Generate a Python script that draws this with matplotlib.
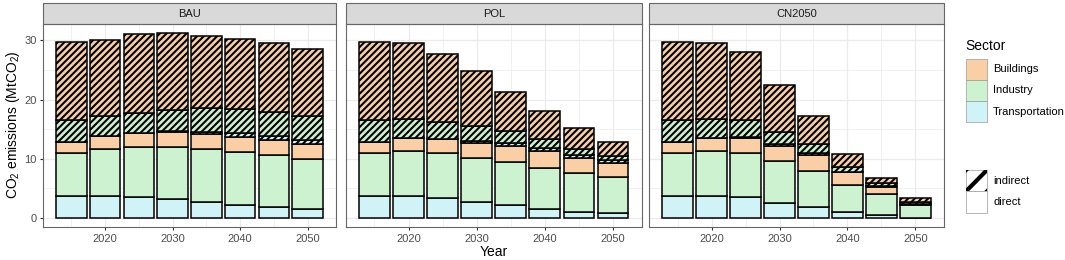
import matplotlib.pyplot as plt
from matplotlib.patches import Rectangle
from matplotlib.lines import Line2D

plt.rcParams['font.family'] = ['Liberation Sans', 'DejaVu Sans']
plt.rcParams['mathtext.default'] = 'regular'
plt.rcParams['hatch.linewidth'] = 1.5
plt.rcParams['hatch.color'] = 'black'

# data (MtCO2)
years = [2015, 2020, 2025, 2030, 2035, 2040, 2045, 2050]
scenarios = ["BAU", "POL", "CN2050"]
sectors = ["Buildings", "Industry", "Transportation"]

bau_trans_dir = [3.7, 3.7, 3.6, 3.3, 2.75, 2.2, 1.8, 1.5]
bau_ind_dir = [7.2, 8.0, 8.4, 8.7, 8.95, 8.9, 8.8, 8.55]
bau_bld_dir = [2.0, 2.2, 2.3, 2.5, 2.5, 2.55, 2.5, 2.45]
bau_trans_ind = [0.0, 0.0, 0.05, 0.2, 0.4, 0.75, 0.7, 0.75]
bau_ind_ind = [3.6, 3.3, 3.45, 3.6, 3.9, 4.0, 4.1, 4.05]
bau_bld_ind = [13.2, 12.9, 13.2, 12.9, 12.3, 11.8, 11.65, 11.2]

pol_trans_dir = [3.7, 3.7, 3.4, 2.75, 2.2, 1.6, 1.05, 0.8]
pol_ind_dir = [7.2, 7.65, 7.55, 7.45, 7.3, 6.9, 6.55, 6.1]
pol_bld_dir = [2.0, 2.15, 2.35, 2.4, 2.6, 2.8, 2.6, 2.4]
pol_trans_ind = [0.0, 0.0, 0.1, 0.4, 0.5, 0.5, 0.4, 0.5]
pol_ind_ind = [3.6, 3.2, 2.8, 2.5, 2.1, 1.6, 1.1, 0.65]
pol_bld_ind = [13.2, 12.85, 11.5, 9.3, 6.5, 4.6, 3.5, 2.35]

cn_trans_dir = [3.7, 3.7, 3.5, 2.6, 1.85, 1.05, 0.45, 0.05]
cn_ind_dir = [7.2, 7.65, 7.55, 7.0, 6.15, 4.5, 3.55, 2.2]
cn_bld_dir = [2.0, 2.15, 2.45, 2.5, 2.6, 2.15, 1.3, 0.05]
cn_trans_ind = [0.0, 0.0, 0.15, 0.4, 0.4, 0.1, 0.15, 0.1]
cn_ind_ind = [3.6, 3.2, 2.85, 2.0, 1.5, 0.85, 0.4, 0.25]
cn_bld_ind = [13.2, 12.85, 11.6, 8.0, 4.7, 2.1, 0.9, 0.7]

colors = {"Buildings": "#FBCFA6", "Industry": "#CDF2CF", "Transportation": "#CFF3F6"}

# stacking order bottom -> top: (values, sector, indirect?)
stacks = {
    "BAU": [(bau_trans_dir, "Transportation", False), (bau_ind_dir, "Industry", False),
            (bau_bld_dir, "Buildings", False), (bau_trans_ind, "Transportation", True),
            (bau_ind_ind, "Industry", True), (bau_bld_ind, "Buildings", True)],
    "POL": [(pol_trans_dir, "Transportation", False), (pol_ind_dir, "Industry", False),
            (pol_bld_dir, "Buildings", False), (pol_trans_ind, "Transportation", True),
            (pol_ind_ind, "Industry", True), (pol_bld_ind, "Buildings", True)],
    "CN2050": [(cn_trans_dir, "Transportation", False), (cn_ind_dir, "Industry", False),
               (cn_bld_dir, "Buildings", False), (cn_trans_ind, "Transportation", True),
               (cn_ind_ind, "Industry", True), (cn_bld_ind, "Buildings", True)],
}

W, H = 1065, 260
fig = plt.figure(figsize=(W / 100, H / 100), dpi=100)

panel_left = [43, 345.7, 649]
panel_width = [293, 296, 295]
plot_top, plot_bottom = 24, 227.3
strip_h = 20.7
border = "#666666"

for i, sc in enumerate(scenarios):
    ax = fig.add_axes([panel_left[i] / W, (H - plot_bottom) / H,
                       panel_width[i] / W, (plot_bottom - plot_top) / H])
    bottom = [0.0] * len(years)
    for vals, sec, indirect in stacks[sc]:
        ax.bar(years, vals, width=4.5, bottom=bottom, color=colors[sec],
               edgecolor="black", linewidth=1.1,
               hatch="/////" if indirect else None, zorder=3)
        bottom = [b + v for b, v in zip(bottom, vals)]

    ax.set_xlim(2010.775, 2054.225)
    ax.set_ylim(-1.56, 32.76)
    ax.set_xticks([2020, 2030, 2040, 2050])
    ax.set_xticks([2015, 2025, 2035, 2045], minor=True)
    ax.set_yticks([0, 10, 20, 30])
    ax.set_yticks([5, 15, 25], minor=True)
    ax.grid(which="major", color="#EBEBEB", linewidth=0.9, zorder=0)
    ax.grid(which="minor", color="#EBEBEB", linewidth=0.5, zorder=0)
    ax.set_axisbelow(True)
    ax.tick_params(which="minor", length=0)
    ax.tick_params(which="major", length=2.5, width=0.8, color="#333333",
                   labelcolor="#4D4D4D", labelsize=8, pad=2)
    if i > 0:
        ax.tick_params(axis="y", left=False, labelleft=False)
    for sp in ax.spines.values():
        sp.set_color(border)
        sp.set_linewidth(0.8)

    # facet strip
    sh = strip_h / (plot_bottom - plot_top)
    ax.add_patch(Rectangle((0, 1), 1, sh, transform=ax.transAxes, clip_on=False,
                           facecolor="#D9D9D9", edgecolor=border, linewidth=0.8))
    ax.text(0.5, 1 + sh / 2, sc, transform=ax.transAxes, ha="center", va="center",
            fontsize=8, color="#1A1A1A")

fig.text(493.7 / W, 1 - 251.5 / H, "Year", ha="center", va="center", fontsize=10)
fig.text(13 / W, 1 - 125 / H, "CO$_2$ emissions (MtCO$_2$)", ha="center", va="center",
         rotation=90, fontsize=10)

# legends drawn in pixel space
lax = fig.add_axes([0, 0, 1, 1], zorder=10)
lax.set_xlim(0, W)
lax.set_ylim(H, 0)
lax.axis("off")

lax.text(965.5, 46, "Sector", ha="left", va="center", fontsize=10)
key_x, key_w, key_h = 966, 21, 21.3
for j, sec in enumerate(sectors):
    y0 = 58.5 + j * key_h
    lax.add_patch(Rectangle((key_x, y0), key_w, key_h, facecolor=colors[sec],
                            edgecolor="#9A9A9A", linewidth=0.5))
    lax.text(993, y0 + key_h / 2, sec, ha="left", va="center", fontsize=8)

# pattern legend
y_ind = 170
box = Rectangle((key_x, y_ind), key_w, key_h, facecolor="white",
                edgecolor="#9A9A9A", linewidth=0.5)
lax.add_patch(box)
for off in (-key_w, 0, key_w):
    ln = Line2D([key_x + off, key_x + key_w + off], [y_ind + key_h, y_ind],
                color="black", linewidth=3)
    lax.add_line(ln)
    ln.set_clip_path(box)
lax.add_patch(Rectangle((key_x, y_ind + key_h), key_w, key_h, facecolor="white",
                        edgecolor="#9A9A9A", linewidth=0.5))
lax.text(993, y_ind + key_h / 2, "indirect", ha="left", va="center", fontsize=8)
lax.text(993, y_ind + key_h * 1.5, "direct", ha="left", va="center", fontsize=8)

fig.savefig("out.png", dpi=100)
